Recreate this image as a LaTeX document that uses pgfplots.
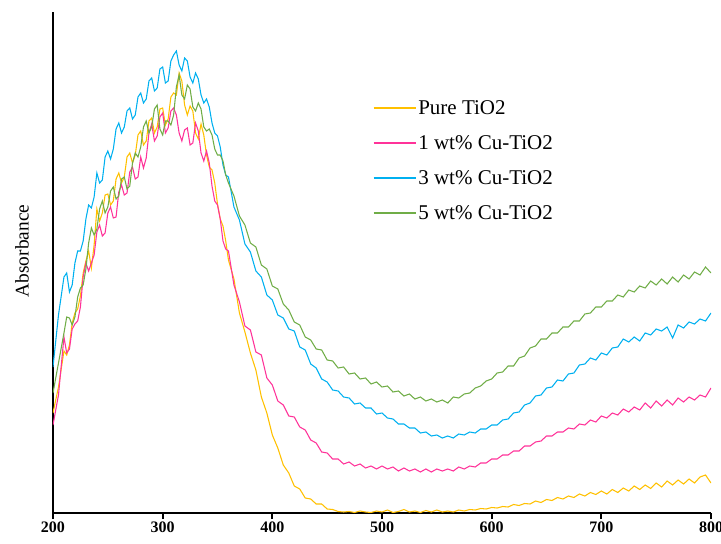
\documentclass[border=0pt]{standalone}
\usepackage{fontspec}
\setmainfont{Liberation Serif}
\usepackage{pgfplots}
\pgfplotsset{compat=1.18}
\definecolor{cYel}{HTML}{FFC000}
\definecolor{cPnk}{HTML}{FF3399}
\definecolor{cBlu}{HTML}{00B0F0}
\definecolor{cGrn}{HTML}{70AD47}

% absorbance (arbitrary units)
\pgfplotstableread{
x y
200 100
205 126
210 162
212.5 158
215 168
217.5 190
220 200
222.5 204
225 217
227.5 240
230 252
232.5 262
235 245
237.5 268
240 304
242.5 292
245 300
247.5 318
250 319
252.5 308
255 312
257.5 334
260 340
262.5 330
265 336
267.5 356
270 360
272.5 350
275 358
277.5 378
280 382
282.5 368
285 372
287.5 392
290 395
292.5 380
295 386
297.5 404
300 405
302.5 388
305 394
307.5 416
310 420
312.5 418
315 440
317.5 432
320 408
322.5 398
325 407
327.5 402
330 380
332.5 374
335 389
337.5 378
340 358
342.5 346
345 343
347.5 330
350 309
352.5 294
355 287
357.5 272
360 253
365 234
370 200
375 181
380 160
385 143
390 116
395 100
400 78
405 65
410 48
415 40
420 27
425 24
430 15
435 14
440 9
445 9
450 4
455 3.5
460 1.5
465 1
470 1.5
475 0.5
480 2
485 1
490 0.5
495 2
500 1
505 3
510 0.5
515 1.5
520 3.5
525 1
530 2
535 0.5
540 2.5
545 1
550 3
555 1
560 2
565 1
570 3
575 2
580 3.5
585 3
590 4.5
595 4
600 5.5
605 5
610 6.5
615 6
620 8.5
625 7.5
630 9.5
635 9
640 12
645 10.5
650 13.5
655 12.5
660 15.5
665 14
670 17
675 15.5
680 19
685 17
690 20.5
695 18.5
700 22
705 19
710 23.5
715 20.5
720 25
725 22
730 27
735 23.5
740 28
745 24.5
750 30
755 26
760 32
765 28
770 33
775 29
780 34
785 30
790 36
795 38
800 30
}\pure

\pgfplotstableread{
x y
200 88
205 118
210 176
212.5 160
215 164
217.5 184
220 189
222.5 192
225 206
227.5 236
230 250
232.5 242
235 250
237.5 258
240 281
242.5 288
245 277
247.5 280
250 300
252.5 306
255 295
257.5 296
260 321
262.5 328
265 318
267.5 320
270 341
272.5 346
275 334
277.5 336
280 356
282.5 345
285 355
287.5 380
290 389
292.5 372
295 377
297.5 396
300 400
302.5 380
305 385
307.5 402
310 405
312.5 398
315 380
317.5 372
320 383
322.5 385
325 368
327.5 370
330 390
332.5 382
335 360
337.5 352
340 362
342.5 350
345 327
347.5 312
350 308
352.5 294
355 272
357.5 264
360 262
365 228
370 211
375 187
380 183
385 161
390 158
395 135
400 128
405 112
410 108
415 97
420 96
425 86
430 83
435 73
440 70
445 61
450 60
455 54
460 54
465 49
470 51
475 47
480 49
485 45
490 47
495 44
500 47
505 44
510 46
515 42
520 45
525 42
530 44
535 41
540 44
545 41
550 44
555 42
560 44
565 42
570 46
575 44
580 47
585 46
590 50
595 50
600 54
605 54
610 58
615 58
620 62
625 62
630 67
635 67
640 71
645 72
650 77
655 77
660 81
665 81
670 85
675 84
680 89
685 88
690 93
695 91
700 97
705 95
710 100
715 98
720 104
725 101
730 106
735 103
740 110
745 105
750 112
755 107
760 113
765 108
770 115
775 111
780 116
785 113
790 118
795 116
800 125
}\cuone

\pgfplotstableread{
x y
200 146
205 198
210 236
212.5 240
215 221
217.5 228
220 250
222.5 262
225 262
227.5 272
230 294
232.5 308
235 305
237.5 316
240 340
242.5 330
245 333
247.5 356
250 362
252.5 354
255 364
257.5 384
260 390
262.5 380
265 386
267.5 402
270 405
272.5 394
275 398
277.5 416
280 420
282.5 410
285 414
287.5 432
290 435
292.5 422
295 425
297.5 444
300 446
302.5 430
305 432
307.5 452
310 458
312.5 462
315 448
317.5 442
320 455
322.5 452
325 436
327.5 430
330 440
332.5 434
335 418
337.5 410
340 414
342.5 406
345 390
347.5 380
350 377
352.5 366
355 348
357.5 338
360 336
365 306
370 293
375 269
380 261
385 242
390 236
395 218
400 213
405 198
410 195
415 184
420 182
425 166
430 163
435 149
440 145
445 134
450 131
455 123
460 122
465 116
470 115
475 109
480 110
485 105
490 105
495 99
500 100
505 95
510 94
515 89
520 89
525 85
530 85
535 80
540 81
545 77
550 78
555 75
560 77
565 75
570 79
575 78
580 81
585 80
590 84
595 84
600 88
605 88
610 93
615 94
620 100
625 101
630 108
635 110
640 117
645 118
650 125
655 126
660 133
665 132
670 139
675 140
680 148
685 149
690 155
695 153
700 160
705 158
710 165
715 166
720 174
725 171
730 176
735 172
740 180
745 178
750 184
755 182
760 186
765 175
770 188
775 185
780 191
785 189
790 194
795 192
800 200
}\cuthree

\pgfplotstableread{
x y
200 120
205 150
210 180
212.5 196
215 195
217.5 188
220 196
222.5 216
225 225
227.5 228
230 244
232.5 270
235 285
237.5 278
240 284
242.5 304
245 312
247.5 300
250 306
252.5 322
255 326
257.5 314
260 317
262.5 334
265 336
267.5 324
270 327
272.5 350
275 360
277.5 356
280 366
282.5 386
285 392
287.5 380
290 386
292.5 404
295 408
297.5 384
300 378
302.5 392
305 392
307.5 388
310 398
312.5 426
315 438
317.5 418
320 414
322.5 428
325 424
327.5 406
330 402
332.5 410
335 404
337.5 386
340 382
342.5 384
345 378
347.5 364
350 358
352.5 358
355 352
357.5 338
360 330
365 317
370 297
375 288
380 270
385 266
390 248
395 244
400 227
405 224
410 209
415 203
420 191
425 188
430 176
435 173
440 164
445 163
450 153
455 152
460 145
465 146
470 139
475 140
480 134
485 135
490 129
495 131
500 126
505 127
510 121
515 122
520 117
525 119
530 114
535 116
540 112
545 114
550 111
555 113
560 110
565 116
570 115
575 119
580 120
585 125
590 127
595 132
600 134
605 140
610 141
615 147
620 147
625 155
630 157
635 165
640 167
645 174
650 174
655 180
660 180
665 186
670 186
675 192
680 192
685 199
690 200
695 206
700 206
705 212
710 212
715 218
720 216
725 223
730 221
735 227
740 225
745 232
750 228
755 234
760 229
765 236
770 231
775 238
780 234
785 241
790 238
795 246
800 240
}\cufive

\begin{document}
\begin{tikzpicture}
\begin{axis}[
  scale only axis,
  width=493.5pt, height=375.75pt,
  xmin=200, xmax=800, ymin=0, ymax=501,
  axis x line*=bottom, axis y line*=left,
  axis line style={black, line width=1.3pt},
  xtick={200,300,...,800}, ytick=\empty,
  xtick pos=left, tickwidth=4.5pt,
  xtick style={draw=black, line width=1.3pt, yshift=-4.5pt},
  xticklabel style={font=\bfseries\fontsize{12}{14}\selectfont, yshift=-3pt},
  /pgf/number format/assume math mode=true,
  ylabel={Absorbance},
  ylabel style={font=\fontsize{14.5}{17}\selectfont, at={(axis description cs:-0.047,0.523)}, anchor=center},
  legend cell align=left,
  legend image code/.code={\draw[#1, line width=1pt] (0pt,0pt) -- (31.5pt,0pt);},
  legend style={draw=none, fill=none, inner sep=0pt, outer sep=0pt,
    at={(axis description cs:0.4863,0.8277)}, anchor=north west,
    font=\fontsize{15.75}{18}\selectfont, row sep=11.75pt, column sep=1.5pt,
    nodes={inner sep=0pt, text height=12.5pt, text depth=2pt}},
  every axis plot/.append style={line width=0.8pt},
]
\addplot[cYel] table[x=x,y=y]{\pure};
\addlegendentry{Pure TiO2}
\addplot[cPnk] table[x=x,y=y]{\cuone};
\addlegendentry{1 wt\% Cu-TiO2}
\addplot[cBlu] table[x=x,y=y]{\cuthree};
\addlegendentry{3 wt\% Cu-TiO2}
\addplot[cGrn] table[x=x,y=y]{\cufive};
\addlegendentry{5 wt\% Cu-TiO2}
\coordinate (O) at (rel axis cs:0,0);
\end{axis}
\pgfresetboundingbox
\path[use as bounding box] ([xshift=-39.75pt,yshift=-22.5pt]O) rectangle ++(540.75pt,407.25pt);
\end{tikzpicture}
\end{document}
